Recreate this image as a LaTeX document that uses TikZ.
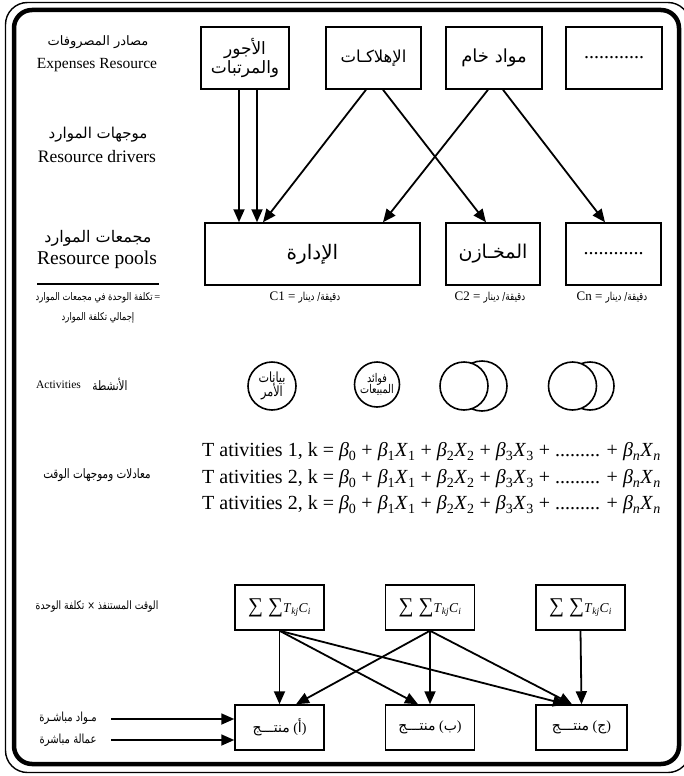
\documentclass[tikz,border=0pt]{standalone}
\usepackage{fontspec}
\setmainfont{Liberation Serif}
\newfontfamily\arfont[Script=Arabic]{DejaVu Sans}
\newfontfamily\arnarrow[Script=Arabic,FakeStretch=0.8]{DejaVu Sans}
\TeXXeTstate=1
\usetikzlibrary{arrows.meta,calc}
\newcommand{\artxt}[1]{\hbox{\arfont\beginR #1\endR}}
\newcommand{\arn}[1]{\hbox{\arnarrow\beginR #1\endR}}
\newcommand{\fsz}[1]{\fontsize{#1}{#1}\selectfont}
\newcommand{\bsub}[1]{\textit{β}\textsubscript{#1}}
\newcommand{\xsub}[1]{\textit{X}\textsubscript{#1}}
\newcommand{\eqline}[1]{T ativities #1, k = \bsub{0} + \bsub{1}\xsub{1} + \bsub{2}\xsub{2} + \bsub{3}\xsub{3} + ......... + \bsub{\textit{n}}\xsub{\textit{n}}}
\newcommand{\sumtxt}{{\fsz{21}∑\hspace{5pt}∑}{\fsz{13.5}\textit{T}\textsubscript{\textit{kj}}\textit{C}\textsubscript{\textit{i}}}}
\begin{document}
\begin{tikzpicture}[x=1pt,y=-1pt,
  box/.style={draw,line width=1.5pt,inner sep=0pt,minimum height=62pt,align=center},
  sbox/.style={draw,line width=1.5pt,inner sep=0pt,minimum width=89pt,minimum height=45pt,align=center},
  arr/.style={line width=1.8pt,-{Triangle[length=13pt,width=11pt]}},
  lbl/.style={inner sep=0pt,align=center},
  act/.style={circle,draw,line width=1.6pt,inner sep=0pt,fill=white,align=center}]
\useasboundingbox (0,0) rectangle (683,776);
% frame
\draw[line width=1.4pt,rounded corners=22pt] (5.5,2.5) rectangle (690,772.5);
\draw[line width=4.5pt,rounded corners=18pt] (14,10) rectangle (679,764);

% left labels
\node[lbl] (l1a) at (98,42) {\fsz{13}\artxt{مصادر المصروفات}};
\node[lbl] (l1b) at (97,65) {\fsz{15.5}Expenses Resource};
\node[lbl] (l2a) at (98,135) {\fsz{15}\artxt{موجهات الموارد}};
\node[lbl] (l2b) at (97,157) {\fsz{17.5}Resource drivers};
\node[lbl] (l3a) at (98,238) {\fsz{16}\artxt{مجمعات الموارد}};
\node[lbl] (l3b) at (97,260) {\fsz{19.5}Resource pools};
\coordinate (hl1) at (37,284);
\coordinate (hl2) at (159,284);
\draw[line width=1.5pt] (hl1) -- (hl2);
\node[lbl] (l4a) at (98,298) {\fsz{10.5}\arn{تكلفة الوحدة في مجمعات الموارد}\,=};
\node[lbl] (l4b) at (98,318) {\fsz{10.5}\arn{إجمالي تكلفة الموارد}};
\node[lbl] (l5a) at (58.5,385) {\fsz{11.5}Activities};
\node[lbl] (l5b) at (110,384) {\fsz{13}\arn{الأنشطة}};
\node[lbl] (l6) at (97,475) {\fsz{13}\arn{معادلات وموجهات الوقت}};
\node[lbl] (l7) at (97,607) {\fsz{11.5}\arn{الوقت المستنفذ × تكلفة الوحدة}};
\node[lbl] (l8) at (68,718) {\fsz{12.5}\arn{مـواد مباشـرة}};
\node[lbl] (l9) at (68,740) {\fsz{12.5}\arn{عمالة مباشرة}};

% expense resources
\node[box,minimum width=88pt] (b1) at (245,58) {\fsz{17}\artxt{الأجور}\\[1pt]\fsz{17}\artxt{والمرتبات}};
\node[box,minimum width=95pt] (b2) at (373.5,58) {\fsz{16.5}\artxt{الإهلاكـات}};
\node[box,minimum width=96pt] (b3) at (494,58) {\fsz{18}\artxt{مواد خام}};
\node[box,minimum width=96pt] (b4) at (614,58) {\fsz{20}............};

% resource pools
\node[box,minimum width=215pt] (p1) at (312.5,254) {\fsz{20}\artxt{الإدارة}};
\node[box,minimum width=94pt] (p2) at (493,254) {\fsz{19}\artxt{المخـازن}};
\node[box,minimum width=95pt] (p3) at (613.5,254) {\fsz{20}............};

\node[lbl] (c1) at (305,298) {\fsz{13}C1 = {\fsz{11}\arn{دقيقة/ دينار}}};
\node[lbl] (c2) at (490,298) {\fsz{13}C2 = {\fsz{11}\arn{دقيقة/ دينار}}};
\node[lbl] (c3) at (612,298) {\fsz{13}Cn = {\fsz{11}\arn{دقيقة/ دينار}}};

% arrows top
\draw[arr] ([xshift=-6pt]b1.south) -- ([xshift=-73.5pt]p1.north);
\draw[arr] ([xshift=12pt]b1.south) -- ([xshift=-55.5pt]p1.north);
\draw[arr] ([xshift=-7.5pt]b2.south) -- ([xshift=-49.5pt]p1.north);
\draw[arr] ([xshift=9.5pt]b2.south) -- ([xshift=-7pt]p2.north);
\draw[arr] ([xshift=-6pt]b3.south) -- ([xshift=70.5pt]p1.north);
\draw[arr] ([xshift=9pt]b3.south) -- ([xshift=-8.5pt]p3.north);

% activities
\node[act,minimum size=48pt] (a1) at (272,386) {\fsz{14}\arn{بيانات}\\[-2pt]\fsz{14}\arn{الأمر}};
\node[act,minimum size=45pt] (a2) at (377,384.5) {\fsz{12}\arn{فوائد}\\[-2pt]\fsz{12}\arn{المبيعات}};
\node[act,minimum size=50pt] (a3b) at (482,386) {};
\node[act,minimum size=48pt] (a3) at (464,386) {};
\node[act,minimum size=48pt] (a4b) at (590,386) {};
\node[act,minimum size=48pt] (a4) at (572.5,386) {};

% equations
\node[lbl,anchor=west] (e1) at (202,452) {\fsz{20}\eqline{1}};
\node[lbl,anchor=west] (e2) at (202,479) {\fsz{20}\eqline{2}};
\node[lbl,anchor=west] (e3) at (202,505) {\fsz{20}\eqline{2}};

% sums
\node[sbox] (s1) at (279.5,607.5) {\sumtxt};
\node[sbox] (s2) at (430,607.5) {\sumtxt};
\node[sbox] (s3) at (580.5,607.5) {\sumtxt};

% products
\node[sbox] (q1) at (279.5,727.5) {\fsz{14}\artxt{منتـــج}\ (\artxt{أ})};
\node[sbox] (q2) at (430,727.5) {\fsz{14}\artxt{منتـــج}\ (\artxt{ب})};
\node[sbox,minimum width=91pt] (q3) at (581.5,727.5) {\fsz{14}\artxt{منتـــج}\ (\artxt{ج})};

\draw[arr] (s1.south) -- (q1.north);
\draw[arr] (s1.south) -- ([xshift=-12pt]q2.north);
\draw[arr] (s1.south) -- ([xshift=-15.5pt]q3.north);
\draw[arr] (s2.south) -- ([xshift=16.5pt]q1.north);
\draw[arr] (s2.south) -- (q2.north);
\draw[arr] (s2.south) -- ([xshift=-9.5pt]q3.north);
\draw[arr] (s3.south) -- (q3.north);

\coordinate (m1) at (111,719);
\coordinate (m2) at (111,740);
\draw[arr] (m1) -- (q1.west |- m1);
\draw[arr] (m2) -- (q1.west |- m2);
\end{tikzpicture}
\end{document}
